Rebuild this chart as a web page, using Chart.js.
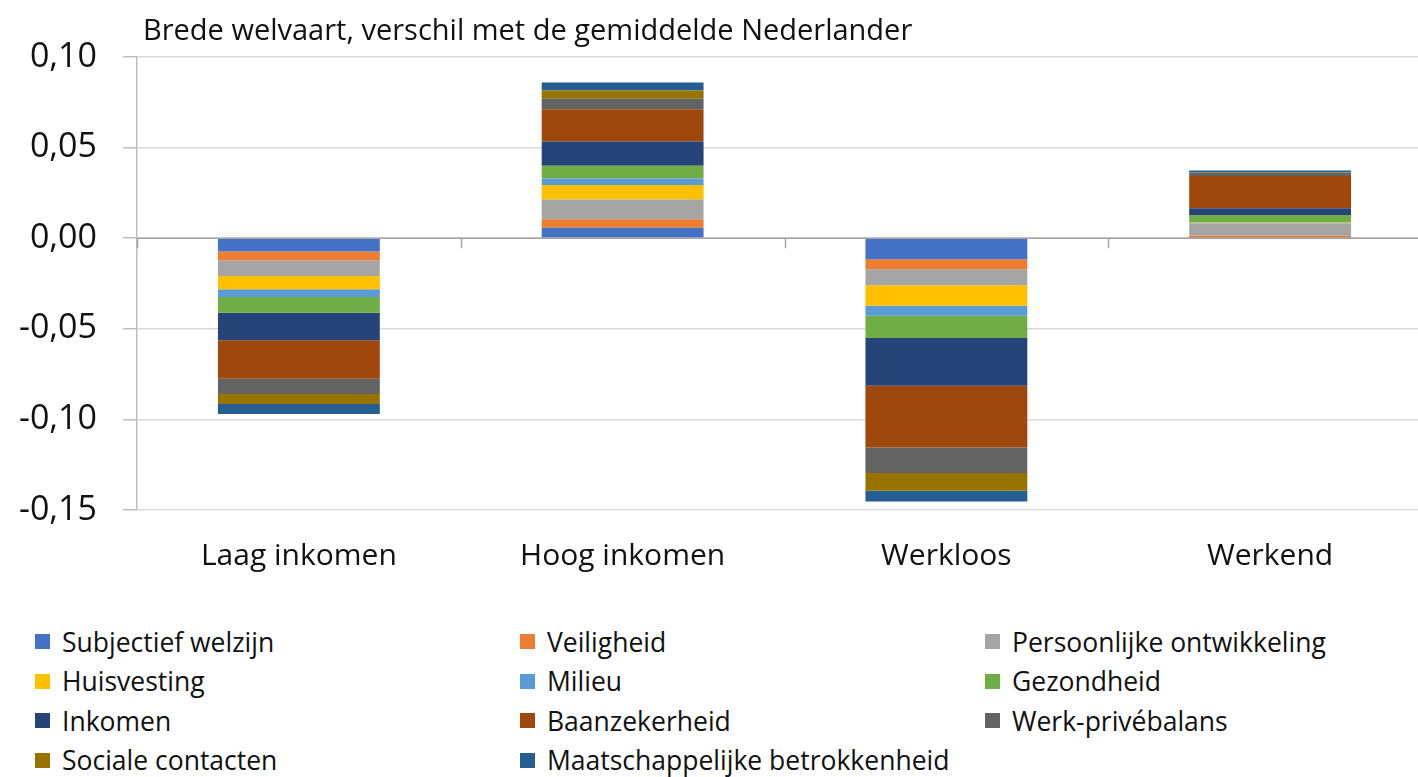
<!DOCTYPE html>
<html>
<head>
<meta charset="utf-8">
<script src="https://cdn.jsdelivr.net/npm/chart.js@4"></script>
<style>
  html, body { margin: 0; padding: 0; background: #fff; width: 1418px; height: 777px; overflow: hidden; font-family: "Open Sans", "Noto Sans", sans-serif; }
  #wrap { position: absolute; left: 0; top: 0; width: 1440px; height: 600px; }
  #title { position: absolute; left: 143px; top: 9px; font-size: 29px; line-height: 40px; color: #111; white-space: nowrap; }
  #legend { position: absolute; left: 35px; top: 622px; display: grid; grid-template-columns: 485px 465px 400px; row-gap: 0; font-size: 26.5px; color: #111; }
  .item { height: 39.5px; display: flex; align-items: center; white-space: nowrap; }
  .box { width: 15px; height: 15px; margin-right: 12px; flex: none; }
</style>
</head>
<body>
<div id="wrap"><canvas id="chartBar"></canvas></div>
<div id="title">Brede welvaart, verschil met de gemiddelde Nederlander</div>
<div id="legend"></div>
<script>
const categories = ['Laag inkomen', 'Hoog inkomen', 'Werkloos', 'Werkend'];

const seriesNames = ['Subjectief welzijn', 'Veiligheid', 'Persoonlijke ontwikkeling', 'Huisvesting', 'Milieu',
  'Gezondheid', 'Inkomen', 'Baanzekerheid', 'Werk-privébalans', 'Sociale contacten', 'Maatschappelijke betrokkenheid'];

const seriesColors = ['#4472C4', '#ED7D31', '#A5A5A5', '#FFC000', '#5B9BD5', '#70AD47',
  '#264478', '#9E480E', '#636363', '#997300', '#255E91'];

// one array per series: Laag inkomen, Hoog inkomen, Werkloos, Werkend
const subjectiefWelzijn = [-0.0074, 0.0057, -0.0116, 0.0003];
const veiligheid = [-0.0048, 0.0048, -0.0055, 0.0010];
const persoonlijkeOntwikkeling = [-0.0087, 0.0109, -0.0088, 0.0070];
const huisvesting = [-0.0073, 0.0079, -0.0114, 0.0002];
const milieu = [-0.0043, 0.0037, -0.0055, 0.0001];
const gezondheid = [-0.0087, 0.0070, -0.0123, 0.0042];
const inkomen = [-0.0151, 0.0133, -0.0263, 0.0037];
const baanzekerheid = [-0.0212, 0.0179, -0.0341, 0.0178];
const werkPrivebalans = [-0.0085, 0.0057, -0.0141, 0.0019];
const socialeContacten = [-0.0055, 0.0046, -0.0098, 0.0003];
const maatschappelijkeBetrokkenheid = [-0.0055, 0.0044, -0.0059, 0.0009];

const seriesValues = [subjectiefWelzijn, veiligheid, persoonlijkeOntwikkeling, huisvesting, milieu, gezondheid,
  inkomen, baanzekerheid, werkPrivebalans, socialeContacten, maatschappelijkeBetrokkenheid];

const yMin = -0.15;
const yMax = 0.10;
const yStep = 0.05;

const formatTick = (v) => {
  if (Math.abs(v) < 1e-9) return '0,00';
  return v.toFixed(2).replace('.', ',');
};

// small tick marks on the zero line between categories
const zeroTicks = {
  id: 'zeroTicks',
  afterDatasetsDraw(chart) {
    const { ctx, scales: { x, y } } = chart;
    const y0 = y.getPixelForValue(0);
    ctx.save();
    ctx.strokeStyle = '#a6a6a6';
    ctx.lineWidth = 1.5;
    ctx.beginPath();
    ctx.moveTo(x.left, y0);
    ctx.lineTo(x.right, y0);
    for (let i = 0; i <= categories.length; i++) {
      const px = Math.round(x.left + (x.right - x.left) * i / categories.length) + 0.5;
      ctx.moveTo(px, y0);
      ctx.lineTo(px, y0 + 10);
    }
    ctx.stroke();
    ctx.restore();
  }
};

const dataBarChart = {
  labels: categories,
  datasets: seriesNames.map((name, i) => ({
    label: name,
    data: seriesValues[i],
    backgroundColor: seriesColors[i],
    borderWidth: 0,
    categoryPercentage: 1.0,
    barPercentage: 0.5
  }))
};

const configBarChart = {
  type: 'bar',
  data: dataBarChart,
  options: {
    responsive: true,
    maintainAspectRatio: false,
    animation: false,
    layout: { padding: { top: 57, right: 8, left: 0, bottom: 0 } },
    plugins: {
      legend: { display: false },
      tooltip: { enabled: false }
    },
    scales: {
      x: {
        stacked: true,
        grid: { display: false, drawTicks: false },
        border: { display: false },
        ticks: {
          padding: 28,
          color: '#111',
          font: { family: '"Open Sans", "Noto Sans", sans-serif', size: 30 }
        },
        afterFit: (scale) => { scale.height = 90; }
      },
      y: {
        stacked: true,
        min: yMin,
        max: yMax,
        grid: { color: '#d9d9d9', lineWidth: 1.5, tickLength: 14, drawTicks: true, tickColor: '#bfbfbf' },
        border: { display: true, color: '#bfbfbf', width: 1.5 },
        ticks: {
          stepSize: yStep,
          padding: 26,
          color: '#111',
          font: { family: '"Open Sans", "Noto Sans", sans-serif', size: 34 },
          callback: (v) => formatTick(v)
        },
        afterFit: (scale) => { scale.width = 137; }
      }
    }
  },
  plugins: [zeroTicks]
};

const chartBar = new Chart(document.getElementById('chartBar'), configBarChart);

const legend = document.getElementById('legend');
seriesNames.forEach((name, i) => {
  const item = document.createElement('div');
  item.className = 'item';
  item.innerHTML = `<span class="box" style="background:${seriesColors[i]}"></span>${name}`;
  legend.appendChild(item);
});
</script>
</body>
</html>
